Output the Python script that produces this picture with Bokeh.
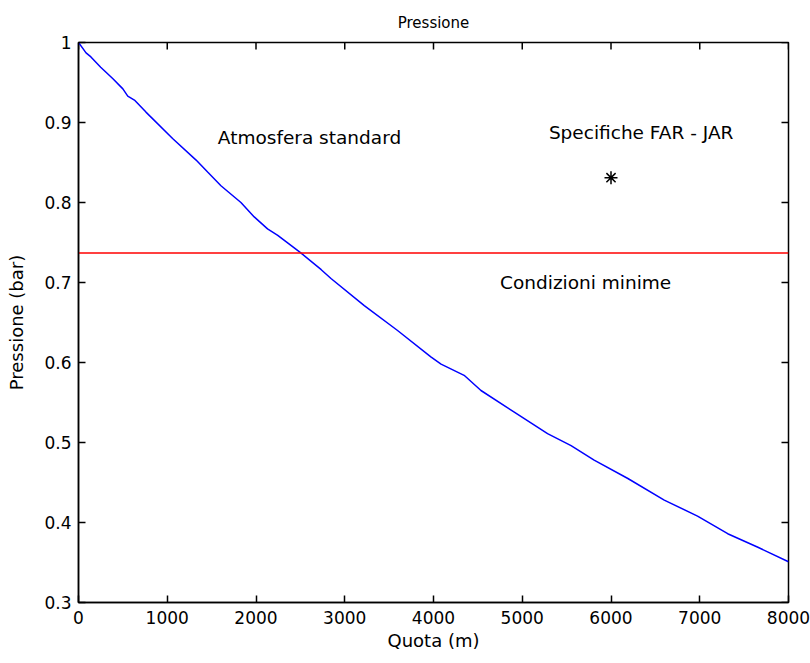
from bokeh.plotting import figure
from bokeh.models import Range1d, LinearAxis, FixedTicker, NumeralTickFormatter
from bokeh.embed import file_html
from bokeh.resources import INLINE

# Standard atmosphere: pressure ratio vs altitude
quota = [0, 85, 140, 250, 385, 500, 555, 630, 760, 1060, 1325, 1455, 1605,
         1830, 1980, 2130, 2245, 2505, 2735, 2845, 3220, 3595, 3970, 4085,
         4345, 4535, 4910, 5285, 5550, 5810, 6190, 6600, 6975, 7315, 7655, 8000]
pressione = [1.0, 0.987, 0.982, 0.969, 0.955, 0.942, 0.933, 0.928, 0.913,
             0.880, 0.853, 0.838, 0.821, 0.800, 0.782, 0.767, 0.759, 0.737,
             0.716, 0.705, 0.671, 0.640, 0.607, 0.598, 0.584, 0.565, 0.538,
             0.511, 0.496, 0.478, 0.455, 0.428, 0.408, 0.386, 0.369, 0.351]

# Minimum required condition (horizontal line)
quota_minima = [0, 8000]
pressione_minima = [0.737, 0.737]

# FAR - JAR specification point
spec_quota = [6000]
spec_pressione = [0.831]

x_ticks = [0, 1000, 2000, 3000, 4000, 5000, 6000, 7000, 8000]
y_ticks = [0.3, 0.4, 0.5, 0.6, 0.7, 0.8, 0.9, 1.0]

FONT = "DejaVu Sans"
TICK_FS = "17px"
LABEL_FS = "18px"
TITLE_FS = "15px"
NOTE_FS = "18.5px"

W, H = 810, 663
BL, BR, BT, BB = 78, 22, 42, 61
X0, X1 = 0, 8000
Y0, Y1 = 0.3, 1.0
TICK_LEN = 7  # inward tick length in pixels

p = figure(width=W, height=H, output_backend="svg", toolbar_location=None,
           x_range=Range1d(X0, X1), y_range=Range1d(Y0, Y1),
           x_axis_location=None, y_axis_location=None,
           min_border_left=BL, min_border_right=BR,
           min_border_top=BT, min_border_bottom=BB)
p.outline_line_color = "black"
p.outline_line_width = 1.5
p.xgrid.visible = False
p.ygrid.visible = False
p.background_fill_color = "white"
p.border_fill_color = "white"

p.title.text = "Pressione"
p.title.align = "center"
p.title.text_font = FONT
p.title.text_font_size = TITLE_FS
p.title.text_font_style = "normal"
p.title.text_color = "black"
p.title.standoff = 21


def style_axis(ax):
    ax.axis_line_color = "black"
    ax.axis_line_width = 1.5
    ax.major_tick_line_color = "black"
    ax.major_tick_line_width = 1.5
    ax.major_tick_in = TICK_LEN
    ax.major_tick_out = 0
    ax.minor_tick_line_color = None
    ax.major_label_text_font = FONT
    ax.major_label_text_font_size = TICK_FS
    ax.major_label_text_color = "black"
    ax.axis_label_text_font = FONT
    ax.axis_label_text_font_size = LABEL_FS
    ax.axis_label_text_font_style = "normal"
    ax.axis_label_text_color = "black"


xb = LinearAxis(ticker=FixedTicker(ticks=x_ticks),
                formatter=NumeralTickFormatter(format="0"),
                axis_label="Quota (m)")
style_axis(xb)
xb.major_label_standoff = 8
xb.axis_label_standoff = 3
p.add_layout(xb, "below")

yl = LinearAxis(ticker=FixedTicker(ticks=y_ticks),
                formatter=NumeralTickFormatter(format="0.[0]"),
                axis_label="Pressione (bar)")
style_axis(yl)
yl.major_label_standoff = 7
yl.axis_label_standoff = 14
p.add_layout(yl, "left")

# Inward ticks on the top and right edges of the box
frame_w = W - BL - BR
frame_h = H - BT - BB
dy = TICK_LEN * (Y1 - Y0) / frame_h
dx = TICK_LEN * (X1 - X0) / frame_w
p.segment(x0=x_ticks, y0=[Y1] * len(x_ticks), x1=x_ticks,
          y1=[Y1 - dy] * len(x_ticks), line_color="black", line_width=1.5)
p.segment(x0=[X1] * len(y_ticks), y0=y_ticks, x1=[X1 - dx] * len(y_ticks),
          y1=y_ticks, line_color="black", line_width=1.5)

p.line(quota, pressione, line_color="#0000ff", line_width=1.5)
p.line(quota_minima, pressione_minima, line_color="#ff0000", line_width=1.5)
p.scatter(spec_quota, spec_pressione, marker="asterisk", size=13,
          line_color="black", line_width=1.5)

labels_x = [1570, 5300, 4750]
labels_y = [0.881, 0.887, 0.70]
labels_text = ["Atmosfera standard", "Specifiche FAR - JAR", "Condizioni minime"]
p.text(labels_x, labels_y, text=labels_text, text_font={"value": FONT},
       text_font_size={"value": NOTE_FS}, text_color="black",
       text_align="left", text_baseline="middle")

open("out.html", "w").write(file_html(p, INLINE))
